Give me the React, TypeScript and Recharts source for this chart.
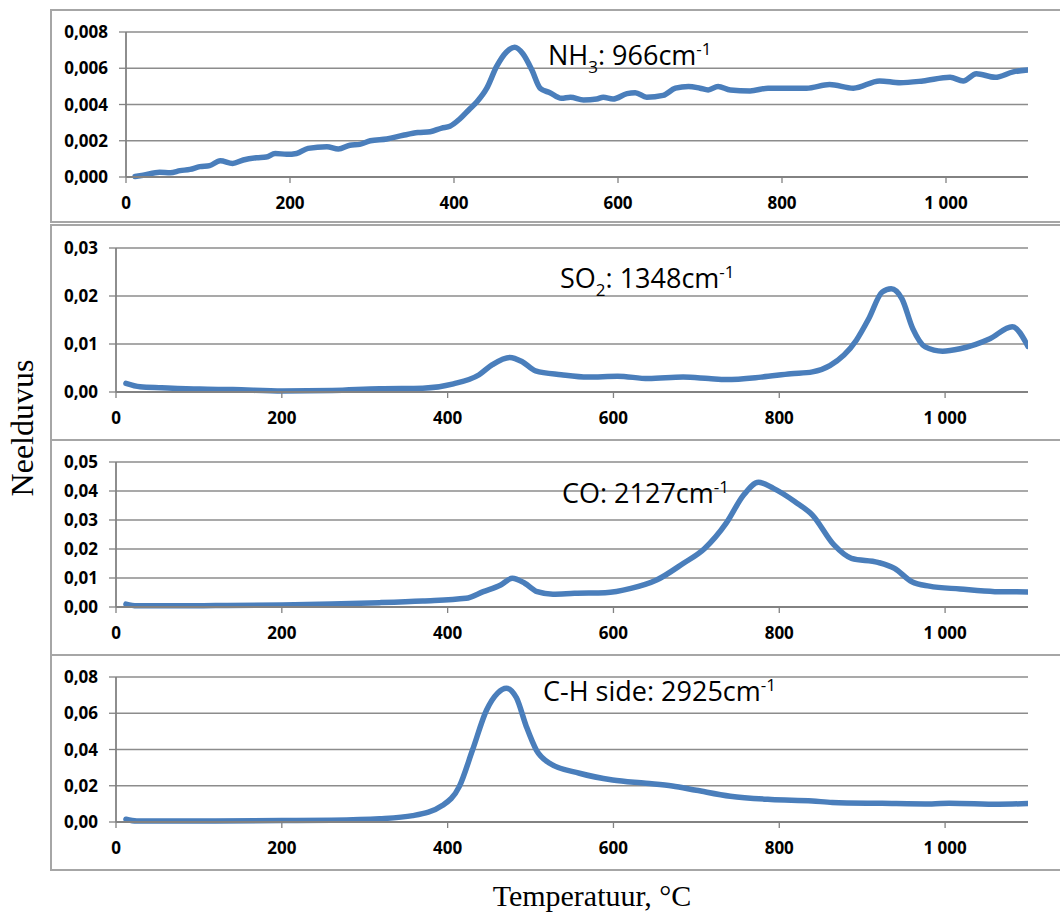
import React from 'react';
import { LineChart, Line, XAxis, YAxis, CartesianGrid } from 'recharts';

// Temperature (°C) and absorbance readings per gas band
const NH3_T = [11, 21, 41, 54, 66, 78, 90, 102, 115, 130, 143, 159, 171, 182, 196, 208, 222, 245, 259, 273, 285, 298, 318, 338, 356, 371, 385, 395, 407, 418, 428, 440, 452, 464, 474, 484, 495, 505, 517, 531, 542, 558, 574, 582, 594, 611, 621, 635, 655, 670, 686, 700, 710, 722, 737, 761, 783, 801, 830, 858, 887, 919, 944, 972, 1005, 1021, 1037, 1060, 1082, 1100];
const NH3_ABS = [0.00003, 0.0001, 0.00026, 0.00024, 0.00035, 0.00042, 0.00057, 0.00063, 0.0009, 0.00075, 0.00094, 0.00106, 0.0011, 0.0013, 0.00125, 0.0013, 0.00158, 0.00167, 0.00154, 0.00175, 0.0018, 0.002, 0.0021, 0.0023, 0.00245, 0.0025, 0.0027, 0.0028, 0.0032, 0.0037, 0.00415, 0.0049, 0.0061, 0.0069, 0.00716, 0.0068, 0.0059, 0.0049, 0.00465, 0.00434, 0.0044, 0.00425, 0.0043, 0.0044, 0.0043, 0.0046, 0.00465, 0.0044, 0.0045, 0.0049, 0.005, 0.0049, 0.0048, 0.005, 0.0048, 0.00475, 0.0049, 0.0049, 0.0049, 0.0051, 0.0049, 0.0053, 0.0052, 0.0053, 0.0055, 0.0053, 0.0057, 0.0055, 0.0058, 0.0059];

const SO2_T = [12, 29, 55, 101, 141, 201, 261, 318, 370, 407, 438, 454, 475, 490, 506, 537, 569, 605, 642, 684, 715, 736, 778, 814, 840, 861, 893, 908, 924, 935, 948, 961, 976, 997, 1018, 1054, 1081, 1100];
const SO2_ABS = [0.0018, 0.0011, 0.0009, 0.0006, 0.0005, 0.0002, 0.0003, 0.0007, 0.0008, 0.0017, 0.0036, 0.0057, 0.0072, 0.0063, 0.0044, 0.0036, 0.0031, 0.0033, 0.0028, 0.0031, 0.0028, 0.0026, 0.0031, 0.0038, 0.0042, 0.0055, 0.0108, 0.0153, 0.0208, 0.0215, 0.0194, 0.0132, 0.0094, 0.0085, 0.009, 0.0111, 0.0136, 0.0095];

const CO_T = [12, 25, 60, 120, 200, 260, 318, 370, 422, 443, 464, 478, 493, 508, 527, 553, 590, 621, 652, 684, 710, 736, 757, 775, 793, 819, 840, 866, 887, 919, 939, 960, 981, 1018, 1060, 1100];
const CO_ABS = [0.001, 0.0004, 0.0004, 0.0005, 0.0007, 0.001, 0.0015, 0.0021, 0.003, 0.0053, 0.0076, 0.0099, 0.0082, 0.0053, 0.0044, 0.0047, 0.0049, 0.0064, 0.0093, 0.015, 0.0202, 0.0289, 0.0386, 0.043, 0.0409, 0.0363, 0.0317, 0.0214, 0.0168, 0.0154, 0.0133, 0.0087, 0.0072, 0.0062, 0.0053, 0.0052];

const CH_T = [12, 25, 60, 120, 200, 260, 318, 358, 394, 414, 430, 447, 460, 471, 483, 495, 507, 523, 559, 599, 639, 671, 700, 741, 790, 840, 864, 924, 984, 1005, 1065, 1100];
const CH_ABS = [0.0015, 0.0005, 0.0005, 0.0006, 0.0008, 0.001, 0.0018, 0.0035, 0.0092, 0.0195, 0.0397, 0.0618, 0.071, 0.0738, 0.0685, 0.0526, 0.0397, 0.0324, 0.0269, 0.0232, 0.0214, 0.0199, 0.0175, 0.0142, 0.0124, 0.0116, 0.0108, 0.0103, 0.0099, 0.0104, 0.0098, 0.0102];

const X_TICKS = [0, 200, 400, 600, 800, 1000];
const NH3_TICKS = [0, 0.002, 0.004, 0.006, 0.008];
const SO2_TICKS = [0, 0.01, 0.02, 0.03];
const CO_TICKS = [0, 0.01, 0.02, 0.03, 0.04, 0.05];
const CH_TICKS = [0, 0.02, 0.04, 0.06, 0.08];

const LINE_COLOR = '#4a7ebb';
const GRID_COLOR = '#8c8c8c';
const AXIS_COLOR = '#828282';
const TICK_FONT = "'Open Sans', sans-serif";

const toRows = (t: number[], v: number[]) => t.map((x, i) => ({ t: x, v: v[i] }));

const formatX = (v: number) => (v >= 1000 ? `${Math.floor(v / 1000)} ${String(v % 1000).padStart(3, '0')}` : String(v));

const panels = [
  { key: 'nh3', rows: toRows(NH3_T, NH3_ABS), ticks: NH3_TICKS, digits: 3, top: 10, height: 212, plotTop: 22, axisWidth: 70, marginLeft: 56, marginBottom: 15 },
  { key: 'so2', rows: toRows(SO2_T, SO2_ABS), ticks: SO2_TICKS, digits: 2, top: 225, height: 215, plotTop: 23, axisWidth: 60, marginLeft: 56, marginBottom: 18 },
  { key: 'co', rows: toRows(CO_T, CO_ABS), ticks: CO_TICKS, digits: 2, top: 440, height: 215, plotTop: 22, axisWidth: 60, marginLeft: 56, marginBottom: 18 },
  { key: 'ch', rows: toRows(CH_T, CH_ABS), ticks: CH_TICKS, digits: 2, top: 655, height: 215, plotTop: 22, axisWidth: 60, marginLeft: 56, marginBottom: 18 },
];

// chart-area frames drawn behind each plot
const frames = [
  { top: 9, height: 214 },
  { top: 224, height: 217 },
  { top: 439, height: 217 },
  { top: 654, height: 217 },
];

const tickStyle = { fill: '#000', fontSize: 17, fontWeight: 700, fontFamily: TICK_FONT };

const Band = ({ x, y, name, sub, rest }: { x: number; y: number; name: string; sub?: string; rest: string }) => (
  <text x={x} y={y} fontFamily={TICK_FONT} fontSize={27} fill="#000">
    {name}
    {sub && (
      <tspan fontSize={17} dy={8}>
        {sub}
      </tspan>
    )}
    <tspan dy={sub ? -8 : 0}>{rest}</tspan>
    <tspan fontSize={17} dy={-10}>
      -1
    </tspan>
  </text>
);

export default function App() {
  return (
    <div style={{ position: 'absolute', left: 0, top: 0, width: 1060, height: 915, background: '#fff', overflow: 'hidden' }}>
      {frames.map((f, i) => (
        <div
          key={i}
          style={{
            position: 'absolute',
            left: 50,
            top: f.top,
            width: 1040,
            height: f.height,
            boxSizing: 'border-box',
            border: '2px solid #a6a6a6',
          }}
        />
      ))}
      {panels.map((p) => (
        <div key={p.key} style={{ position: 'absolute', left: 0, top: p.top }}>
          <LineChart
            width={1060}
            height={p.height}
            data={p.rows}
            margin={{ top: p.plotTop, right: 32, left: p.marginLeft, bottom: p.marginBottom }}
          >
            <CartesianGrid vertical={false} stroke={GRID_COLOR} strokeWidth={1.3} />
            <XAxis
              dataKey="t"
              type="number"
              domain={[0, 1100]}
              ticks={X_TICKS}
              interval={0}
              allowDataOverflow
              tickFormatter={formatX}
              height={30}
              tickSize={6}
              tickMargin={14}
              axisLine={{ stroke: AXIS_COLOR, strokeWidth: 1.8 }}
              tickLine={{ stroke: AXIS_COLOR, strokeWidth: 1.3 }}
              tick={tickStyle}
            />
            <YAxis
              type="number"
              domain={[0, p.ticks[p.ticks.length - 1]]}
              ticks={p.ticks}
              interval={0}
              width={p.axisWidth}
              tickFormatter={(v: number) => v.toFixed(p.digits).replace('.', ',')}
              tickSize={7}
              tickMargin={11}
              axisLine={{ stroke: AXIS_COLOR, strokeWidth: 1.8 }}
              tickLine={{ stroke: AXIS_COLOR, strokeWidth: 1.3 }}
              tick={tickStyle}
            />
            <Line
              type="monotone"
              dataKey="v"
              stroke={LINE_COLOR}
              strokeWidth={5.5}
              strokeLinecap="round"
              strokeLinejoin="round"
              dot={false}
              activeDot={false}
              isAnimationActive={false}
            />
          </LineChart>
        </div>
      ))}
      <svg width={1060} height={915} style={{ position: 'absolute', left: 0, top: 0, pointerEvents: 'none' }}>
        <Band x={548} y={65} name="NH" sub="3" rest=": 966cm" />
        <Band x={560} y={288} name="SO" sub="2" rest=": 1348cm" />
        <Band x={562} y={503} name="CO" rest=": 2127cm" />
        <Band x={543} y={701} name="C-H side" rest=": 2925cm" />
        <text
          transform="translate(33 428) rotate(-90)"
          textAnchor="middle"
          fontFamily="'Liberation Serif', serif"
          fontSize={32}
          fill="#000"
        >
          Neelduvus
        </text>
        <text x={592} y={906} textAnchor="middle" fontFamily="'Liberation Serif', serif" fontSize={30} fill="#000">
          Temperatuur, °C
        </text>
      </svg>
    </div>
  );
}
